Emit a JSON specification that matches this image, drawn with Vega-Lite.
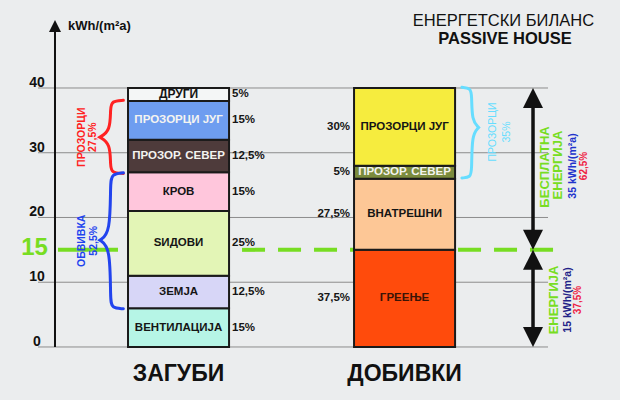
{
  "$schema": "https://vega.github.io/schema/vega-lite/v6.json",
  "width": 620,
  "height": 400,
  "autosize": {"type": "fit", "contains": "padding"},
  "padding": 0,
  "background": "#ebedee",
  "config": {"view": {"stroke": null}, "axis": {"disable": true}, "font": "Liberation Sans"},
  "datasets": {
    "balance": [
      {"group": "ЗАГУБИ", "ord": 1, "name": "ВЕНТИЛАЦИЈА", "value": 6, "pct": "15%"},
      {"group": "ЗАГУБИ", "ord": 2, "name": "ЗЕМЈА", "value": 5, "pct": "12,5%"},
      {"group": "ЗАГУБИ", "ord": 3, "name": "ЅИДОВИ", "value": 10, "pct": "25%"},
      {"group": "ЗАГУБИ", "ord": 4, "name": "КРОВ", "value": 6, "pct": "15%"},
      {"group": "ЗАГУБИ", "ord": 5, "name": "ПРОЗОР. СЕВЕР", "value": 5, "pct": "12,5%"},
      {"group": "ЗАГУБИ", "ord": 6, "name": "ПРОЗОРЦИ ЈУГ", "value": 6, "pct": "15%"},
      {"group": "ЗАГУБИ", "ord": 7, "name": "ДРУГИ", "value": 2, "pct": "5%"},
      {"group": "ДОБИВКИ", "ord": 1, "name": "ГРЕЕЊЕ", "value": 15, "pct": "37,5%"},
      {"group": "ДОБИВКИ", "ord": 2, "name": "ВНАТРЕШНИ", "value": 11, "pct": "27,5%"},
      {"group": "ДОБИВКИ", "ord": 3, "name": "ПРОЗОР. СЕВЕР", "value": 2, "pct": "5%"},
      {"group": "ДОБИВКИ", "ord": 4, "name": "ПРОЗОРЦИ ЈУГ", "value": 12, "pct": "30%"}
    ],
    "ticks": [{"v": 0}, {"v": 10}, {"v": 20}, {"v": 30}, {"v": 40}],
    "braces": [
      {"brace": "windows_loss", "i": 0, "bx": 19.9, "by": 38.1},
      {"brace": "windows_loss", "i": 1, "bx": 18.0, "by": 38.0},
      {"brace": "windows_loss", "i": 2, "bx": 17.8, "by": 36.8},
      {"brace": "windows_loss", "i": 3, "bx": 17.8, "by": 33.4},
      {"brace": "windows_loss", "i": 4, "bx": 16.1, "by": 32.4},
      {"brace": "windows_loss", "i": 5, "bx": 16.1, "by": 32.4},
      {"brace": "windows_loss", "i": 6, "bx": 16.1, "by": 32.4},
      {"brace": "windows_loss", "i": 7, "bx": 17.8, "by": 31.4},
      {"brace": "windows_loss", "i": 8, "bx": 17.8, "by": 28.0},
      {"brace": "windows_loss", "i": 9, "bx": 18.0, "by": 26.9},
      {"brace": "windows_loss", "i": 10, "bx": 19.9, "by": 26.8},
      {"brace": "envelope", "i": 0, "bx": 19.9, "by": 26.9},
      {"brace": "envelope", "i": 1, "bx": 18.0, "by": 26.7},
      {"brace": "envelope", "i": 2, "bx": 17.8, "by": 25.3},
      {"brace": "envelope", "i": 3, "bx": 17.8, "by": 17.6},
      {"brace": "envelope", "i": 4, "bx": 16.1, "by": 16.5},
      {"brace": "envelope", "i": 5, "bx": 16.1, "by": 16.5},
      {"brace": "envelope", "i": 6, "bx": 16.1, "by": 16.5},
      {"brace": "envelope", "i": 7, "bx": 17.8, "by": 15.4},
      {"brace": "envelope", "i": 8, "bx": 17.8, "by": 7.3},
      {"brace": "envelope", "i": 9, "bx": 18.0, "by": 6.0},
      {"brace": "envelope", "i": 10, "bx": 19.9, "by": 5.9},
      {"brace": "windows_gain", "i": 0, "bx": 74.5, "by": 40.1},
      {"brace": "windows_gain", "i": 1, "bx": 75.9, "by": 40.0},
      {"brace": "windows_gain", "i": 2, "bx": 76.1, "by": 38.8},
      {"brace": "windows_gain", "i": 3, "bx": 76.1, "by": 35.0},
      {"brace": "windows_gain", "i": 4, "bx": 77.2, "by": 33.9},
      {"brace": "windows_gain", "i": 5, "bx": 77.2, "by": 33.9},
      {"brace": "windows_gain", "i": 6, "bx": 77.2, "by": 33.9},
      {"brace": "windows_gain", "i": 7, "bx": 76.1, "by": 32.8},
      {"brace": "windows_gain", "i": 8, "bx": 76.1, "by": 27.3},
      {"brace": "windows_gain", "i": 9, "bx": 75.9, "by": 26.2},
      {"brace": "windows_gain", "i": 10, "bx": 74.5, "by": 26.1}
    ]
  },
  "data": {"values": [{}]},
  "resolve": {"scale": {"x": "independent", "color": "independent"}},
  "layer": [
    {
      "layer": [
        {
          "data": {"name": "ticks"},
          "mark": {"type": "rule", "color": "#8c8c8c", "strokeWidth": 1},
          "encoding": {
            "x": {"datum": 6.13, "type": "quantitative", "scale": {"domain": [0, 100], "nice": false, "zero": false}},
            "x2": {"datum": 88.39},
            "y": {"field": "v", "type": "quantitative", "scale": {"domain": [-8.19, 53.59], "nice": false, "zero": false}}
          }
        },
        {
          "mark": {"type": "rule", "color": "#77dd22", "strokeWidth": 4},
          "encoding": {"x": {"datum": 9.35}, "x2": {"datum": 19.03}, "y": {"datum": 15}}
        },
        {
          "mark": {"type": "rule", "color": "#77dd22", "strokeWidth": 4, "strokeDash": [23, 13], "strokeDashOffset": 23},
          "encoding": {"x": {"datum": 36.94}, "x2": {"datum": 90.0}, "y": {"datum": 15}}
        }
      ]
    },
    {
      "data": {"name": "balance"},
      "transform": [
        {"stack": "value", "groupby": ["group"], "sort": [{"field": "ord", "order": "ascending"}], "as": ["y0", "y1"]},
        {"calculate": "(datum.y0 + datum.y1) / 2", "as": "mid"},
        {"calculate": "datum.group + '|' + datum.name", "as": "key"}
      ],
      "layer": [
        {
          "mark": {"type": "bar", "stroke": "#1a1a1a", "strokeWidth": 2, "opacity": 1},
          "encoding": {
            "x": {"field": "group", "type": "nominal", "scale": {"domain": ["ЗАГУБИ", "ДОБИВКИ"], "paddingInner": 0.553, "paddingOuter": 0.648, "align": 0.437}},
            "y": {"field": "y0", "type": "quantitative", "scale": {"domain": [-8.19, 53.59], "nice": false, "zero": false}},
            "y2": {"field": "y1"},
            "color": {
              "field": "key",
              "type": "nominal",
              "legend": null,
              "scale": {
                "domain": ["ЗАГУБИ|ВЕНТИЛАЦИЈА", "ЗАГУБИ|ЗЕМЈА", "ЗАГУБИ|ЅИДОВИ", "ЗАГУБИ|КРОВ", "ЗАГУБИ|ПРОЗОР. СЕВЕР", "ЗАГУБИ|ПРОЗОРЦИ ЈУГ", "ЗАГУБИ|ДРУГИ", "ДОБИВКИ|ГРЕЕЊЕ", "ДОБИВКИ|ВНАТРЕШНИ", "ДОБИВКИ|ПРОЗОР. СЕВЕР", "ДОБИВКИ|ПРОЗОРЦИ ЈУГ"],
                "range": ["#b6f5e6", "#d7d6f7", "#e3f5b6", "#ffc6dc", "#4e3b3b", "#6e9df0", "#f4f6f6", "#ff4b0c", "#fdc796", "#7b8b3d", "#f6ec3e"]
              }
            }
          }
        },
        {
          "mark": {"type": "text", "fontWeight": "bold", "baseline": "middle"},
          "encoding": {
            "x": {"field": "group", "type": "nominal"},
            "y": {"field": "mid", "type": "quantitative"},
            "text": {"field": "name"},
            "color": {
              "condition": [
                {"test": "datum.key === 'ЗАГУБИ|ПРОЗОРЦИ ЈУГ' || datum.name === 'ПРОЗОР. СЕВЕР'", "value": "#f4f4f0"},
                {"test": "datum.name === 'ГРЕЕЊЕ'", "value": "#3a1406"}
              ],
              "value": "#151515"
            },
            "size": {"condition": {"test": "datum.name === 'ДРУГИ'", "value": 12}, "value": 11.5}
          }
        },
        {
          "transform": [{"filter": "datum.group === 'ЗАГУБИ'"}],
          "mark": {"type": "text", "align": "left", "baseline": "middle", "dx": 3, "fontWeight": "bold", "fontSize": 11.5, "color": "#151515"},
          "encoding": {
            "x": {"field": "group", "type": "nominal", "bandPosition": 1},
            "y": {"field": "mid", "type": "quantitative"},
            "text": {"field": "pct"}
          }
        },
        {
          "transform": [{"filter": "datum.group === 'ДОБИВКИ'"}],
          "mark": {"type": "text", "align": "right", "baseline": "middle", "dx": -4, "fontWeight": "bold", "fontSize": 11.5, "color": "#151515"},
          "encoding": {
            "x": {"field": "group", "type": "nominal", "bandPosition": 0},
            "y": {"field": "mid", "type": "quantitative"},
            "text": {"field": "pct"}
          }
        },
        {
          "transform": [{"filter": "datum.ord === 1"}],
          "mark": {"type": "text", "baseline": "middle", "fontWeight": "bold", "fontSize": 23, "color": "#111111"},
          "encoding": {
            "x": {"field": "group", "type": "nominal"},
            "y": {"datum": -4.17},
            "text": {"field": "group"}
          }
        }
      ]
    },
    {
      "layer": [
        {
          "mark": {"type": "rule", "color": "#111111", "strokeWidth": 2},
          "encoding": {
            "x": {"datum": 8.87, "type": "quantitative", "scale": {"domain": [0, 100], "nice": false, "zero": false}},
            "y": {"datum": 0},
            "y2": {"datum": 49.2}
          }
        },
        {
          "mark": {"type": "point", "shape": "M0,0L0.5,1L-0.5,1Z", "filled": true, "color": "#111111", "size": 576, "opacity": 1},
          "encoding": {"x": {"datum": 8.87}, "y": {"datum": 50.5}}
        },
        {
          "data": {"name": "ticks"},
          "mark": {"type": "text", "fontWeight": "bold", "fontSize": 14, "baseline": "alphabetic", "dy": -1, "color": "#111111"},
          "encoding": {"x": {"datum": 5.97}, "y": {"field": "v", "type": "quantitative"}, "text": {"field": "v"}}
        },
        {
          "mark": {"type": "text", "text": "15", "fontWeight": "bold", "fontSize": 24, "baseline": "alphabetic", "color": "#77dd22"},
          "encoding": {"x": {"datum": 5.56}, "y": {"datum": 14.21}}
        },
        {
          "mark": {"type": "text", "text": "kWh/(m²a)", "fontWeight": "bold", "fontSize": 13, "align": "left", "baseline": "middle", "color": "#111111"},
          "encoding": {"x": {"datum": 10.97}, "y": {"datum": 49.5}}
        },
        {
          "mark": {"type": "text", "text": "ЕНЕРГЕТСКИ БИЛАНС", "fontSize": 16.5, "baseline": "middle", "color": "#111111"},
          "encoding": {"x": {"datum": 81.2}, "y": {"datum": 50.27}}
        },
        {
          "mark": {"type": "text", "text": "PASSIVE HOUSE", "fontWeight": "bold", "fontSize": 16.5, "baseline": "middle", "color": "#111111"},
          "encoding": {"x": {"datum": 81.45}, "y": {"datum": 47.57}}
        },
        {
          "data": {"name": "braces"},
          "mark": {"type": "line", "interpolate": "basis", "strokeWidth": 3, "strokeCap": "round"},
          "encoding": {
            "x": {"field": "bx", "type": "quantitative"},
            "y": {"field": "by", "type": "quantitative"},
            "order": {"field": "i"},
            "color": {"field": "brace", "type": "nominal", "legend": null, "scale": {"domain": ["windows_loss", "envelope", "windows_gain"], "range": ["#ff2222", "#2244ee", "#66ddff"]}}
          }
        },
        {
          "mark": {"type": "text", "text": "ПРОЗОРЦИ", "angle": 270, "fontWeight": "bold", "fontSize": 10.5, "baseline": "middle", "color": "#ff2222"},
          "encoding": {"x": {"datum": 13.2}, "y": {"datum": 32.4}}
        },
        {
          "mark": {"type": "text", "text": "27,5%", "angle": 270, "fontWeight": "bold", "fontSize": 10.5, "baseline": "middle", "color": "#ff2222"},
          "encoding": {"x": {"datum": 15.0}, "y": {"datum": 32.4}}
        },
        {
          "mark": {"type": "text", "text": "ОБВИВКА", "angle": 270, "fontWeight": "bold", "fontSize": 10.5, "baseline": "middle", "color": "#2244ee"},
          "encoding": {"x": {"datum": 13.2}, "y": {"datum": 16.4}}
        },
        {
          "mark": {"type": "text", "text": "52,5%", "angle": 270, "fontWeight": "bold", "fontSize": 10.5, "baseline": "middle", "color": "#2244ee"},
          "encoding": {"x": {"datum": 15.1}, "y": {"datum": 16.4}}
        },
        {
          "mark": {"type": "text", "text": "ПРОЗОРЦИ", "angle": 270, "fontSize": 10.5, "baseline": "middle", "color": "#66ddff"},
          "encoding": {"x": {"datum": 79.5}, "y": {"datum": 33.2}}
        },
        {
          "mark": {"type": "text", "text": "35%", "angle": 270, "fontSize": 10.5, "baseline": "middle", "color": "#66ddff"},
          "encoding": {"x": {"datum": 81.7}, "y": {"datum": 33.2}}
        },
        {
          "mark": {"type": "rule", "color": "#111111", "strokeWidth": 3.5},
          "encoding": {"x": {"datum": 85.97}, "y": {"datum": 16}, "y2": {"datum": 39}}
        },
        {
          "mark": {"type": "rule", "color": "#111111", "strokeWidth": 3.5},
          "encoding": {"x": {"datum": 85.97}, "y": {"datum": 1}, "y2": {"datum": 14}}
        },
        {
          "mark": {"type": "point", "shape": "M0,0L0.5,1L-0.5,1Z", "filled": true, "color": "#111111", "size": 1600, "opacity": 1},
          "encoding": {"x": {"datum": 85.97}, "y": {"datum": 40}}
        },
        {
          "mark": {"type": "point", "shape": "M0,0L0.5,-1L-0.5,-1Z", "filled": true, "color": "#111111", "size": 1600, "opacity": 1},
          "encoding": {"x": {"datum": 85.97}, "y": {"datum": 15}}
        },
        {
          "mark": {"type": "point", "shape": "M0,0L0.5,1L-0.5,1Z", "filled": true, "color": "#111111", "size": 1600, "opacity": 1},
          "encoding": {"x": {"datum": 85.97}, "y": {"datum": 15}}
        },
        {
          "mark": {"type": "point", "shape": "M0,0L0.5,-1L-0.5,-1Z", "filled": true, "color": "#111111", "size": 1600, "opacity": 1},
          "encoding": {"x": {"datum": 85.97}, "y": {"datum": 0}}
        },
        {
          "mark": {"type": "text", "text": "БЕСПЛАТНА", "angle": 270, "fontWeight": "bold", "fontSize": 13, "baseline": "middle", "color": "#77dd22"},
          "encoding": {"x": {"datum": 87.9}, "y": {"datum": 27.8}}
        },
        {
          "mark": {"type": "text", "text": "ЕНЕРГИЈА", "angle": 270, "fontWeight": "bold", "fontSize": 13, "baseline": "middle", "color": "#77dd22"},
          "encoding": {"x": {"datum": 90.0}, "y": {"datum": 28.1}}
        },
        {
          "mark": {"type": "text", "text": "35 kWh/(m²a)", "angle": 270, "fontWeight": "bold", "fontSize": 10.5, "baseline": "middle", "color": "#2233cc"},
          "encoding": {"x": {"datum": 92.4}, "y": {"datum": 27.95}}
        },
        {
          "mark": {"type": "text", "text": "62,5%", "angle": 270, "fontWeight": "bold", "fontSize": 10, "baseline": "middle", "color": "#ee2244"},
          "encoding": {"x": {"datum": 94.2}, "y": {"datum": 27.95}}
        },
        {
          "mark": {"type": "text", "text": "ЕНЕРГИЈА", "angle": 270, "fontWeight": "bold", "fontSize": 13, "baseline": "middle", "color": "#77dd22"},
          "encoding": {"x": {"datum": 89.35}, "y": {"datum": 7.26}}
        },
        {
          "mark": {"type": "text", "text": "15 kWh/(m²a)", "angle": 270, "fontWeight": "bold", "fontSize": 10.5, "baseline": "middle", "color": "#222288"},
          "encoding": {"x": {"datum": 91.6}, "y": {"datum": 7.26}}
        },
        {
          "mark": {"type": "text", "text": "37,5%", "angle": 270, "fontWeight": "bold", "fontSize": 10, "baseline": "middle", "color": "#ee2244"},
          "encoding": {"x": {"datum": 93.2}, "y": {"datum": 7.26}}
        }
      ]
    }
  ]
}
